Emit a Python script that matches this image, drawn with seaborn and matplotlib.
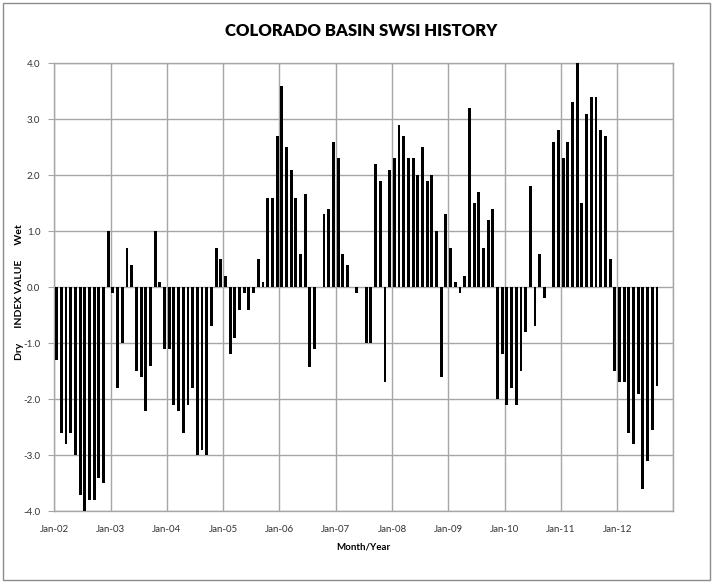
import matplotlib
matplotlib.use("Agg")
import matplotlib.pyplot as plt
from matplotlib.patches import Rectangle
import seaborn as sns
import pandas as pd

# monthly SWSI values, Jan-02 .. Sep-12
swsi = [
    -1.3, -2.6, -2.8, -2.6, -3.0, -3.7, -4.0, -3.8, -3.8, -3.4, -3.5, 1.0,    # 2002
    -0.1, -1.8, -1.0, 0.7, 0.4, -1.5, -1.6, -2.2, -1.4, 1.0, 0.1, -1.1,       # 2003
    -1.1, -2.1, -2.2, -2.6, -2.1, -1.8, -3.0, -2.9, -3.0, -0.7, 0.7, 0.5,     # 2004
    0.2, -1.2, -0.9, -0.4, -0.1, -0.4, -0.1, 0.5, 0.1, 1.6, 1.6, 2.7,         # 2005
    3.6, 2.5, 2.1, 1.6, 0.6, 1.67, -1.43, -1.1, 0.0, 1.3, 1.4, 2.6,           # 2006
    2.3, 0.6, 0.4, 0.0, -0.1, 0.0, -1.0, -1.0, 2.2, 1.9, -1.7, 2.1,           # 2007
    2.3, 2.9, 2.7, 2.3, 2.3, 2.0, 2.5, 1.9, 2.0, 1.0, -1.6, 1.3,              # 2008
    0.7, 0.1, -0.1, 0.2, 3.2, 1.5, 1.7, 0.7, 1.2, 1.4, -2.0, -1.2,            # 2009
    -2.1, -1.8, -2.1, -1.5, -0.8, 1.8, -0.7, 0.6, -0.2, 0.0, 2.6, 2.8,        # 2010
    2.3, 2.6, 3.3, 4.0, 1.5, 3.1, 3.4, 3.4, 2.8, 2.7, 0.5, -1.5,              # 2011
    -1.7, -1.7, -2.6, -2.8, -1.9, -3.6, -3.1, -2.55, -1.77,                   # 2012
]
year_labels = ["Jan-02", "Jan-03", "Jan-04", "Jan-05", "Jan-06", "Jan-07",
               "Jan-08", "Jan-09", "Jan-10", "Jan-11", "Jan-12"]
y_ticks = [4.0, 3.0, 2.0, 1.0, 0.0, -1.0, -2.0, -3.0, -4.0]

df = pd.DataFrame({"month": [m + 0.5 for m in range(len(swsi))], "swsi": swsi})

W, H = 713, 583
fig = plt.figure(figsize=(W / 100, H / 100), dpi=100)
font = "Lato"
grid_col = "#a6a6a6"

ax = fig.add_axes([54.3 / W, 1 - 511.3 / H, (673.4 - 54.3) / W, (511.3 - 63.3) / H])

sns.barplot(data=df, x="month", y="swsi", native_scale=True, color="black",
            width=0.62, errorbar=None, saturation=1, ax=ax, zorder=3)

ax.set_xlim(0, 132)
ax.set_ylim(-4, 4)
ax.set_xticks([12 * i for i in range(len(year_labels))] + [132])
ax.set_xticklabels(year_labels + [""], fontsize=7, family=font, color="#333333")
ax.set_yticks(y_ticks)
ax.set_yticklabels([f"{v:.1f}" for v in y_ticks], fontsize=7, family=font, color="#333333")
ax.tick_params(axis="x", length=0, pad=10)
ax.tick_params(axis="y", length=4, color=grid_col, pad=6)
ax.grid(True, color=grid_col, lw=1, zorder=0)
ax.set_axisbelow(True)
for s in ax.spines.values():
    s.set_color(grid_col)
    s.set_linewidth(1)
ax.set_xlabel("")
ax.set_ylabel("")

fig.text(361 / W, 1 - 31 / H, "COLORADO BASIN SWSI HISTORY", ha="center", va="center",
         fontsize=12, fontweight="heavy", family=font)
fig.text(363 / W, 1 - 547 / H, "Month/Year", ha="center", va="center",
         fontsize=7, fontweight="bold", family=font)
fig.text(20 / W, 1 - 292 / H, "Dry      INDEX VALUE      Wet", ha="center", va="center",
         rotation=90, fontsize=7.5, fontweight="bold", family=font)

fig.patches.append(Rectangle((3 / W, 3 / H), 707 / W, 577 / H, transform=fig.transFigure,
                             fill=False, edgecolor="#8c8c8c", lw=1))

fig.savefig("out.png", dpi=100)
